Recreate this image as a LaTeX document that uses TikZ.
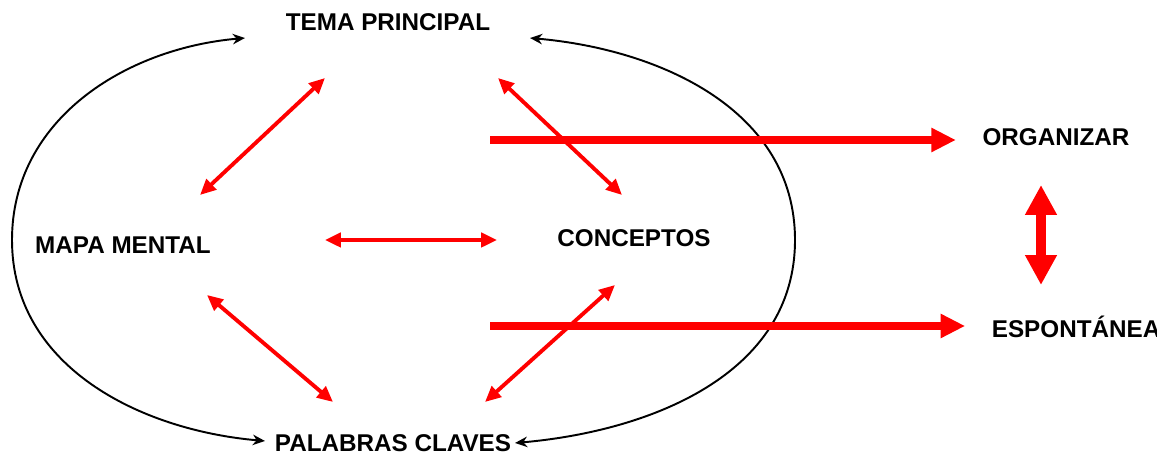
\documentclass[tikz,border=0pt]{standalone}
\usepackage{fontspec}
\setmainfont{Liberation Sans}
\usetikzlibrary{arrows.meta,positioning,calc}

\begin{document}
\begin{tikzpicture}[
  x=0.02cm, y=-0.02cm,
  concept/.style={font=\fontsize{13.8}{16}\selectfont\bfseries, inner sep=2pt},
  orbit/.style={black, line width=1.1pt, {Stealth[length=7pt,width=6pt]}-{Stealth[length=7pt,width=6pt]}},
  link/.style={red, line width=2.2pt, {Triangle[length=9pt,width=8pt]}-{Triangle[length=9pt,width=8pt]}},
  flow/.style={red, line width=4pt, -{Triangle[length=14pt,width=13pt]}, shorten >=13},
  swap/.style={red, line width=5.7pt, {Triangle[length=17pt,width=17pt]}-{Triangle[length=17pt,width=17pt]}}
]
\useasboundingbox (0,0) rectangle (1157,455);

\node[concept] (tema) at (388,22) {TEMA PRINCIPAL};
\node[concept] (mapa) at (123,245) {MAPA MENTAL};
\node[concept] (conceptos) at (634,238) {CONCEPTOS};
\node[concept] (palabras) at (393,443) {PALABRAS CLAVES};
\node[concept] (organizar) at (1056,137) {ORGANIZAR};
\node[concept, anchor=west] (espontanea) at (988,327) {ESPONTÁNEA};

% outer loop
\coordinate (tl) at (245,38);
\coordinate (tr) at (530,38);
\coordinate (ml) at (12,240);
\coordinate (mr) at (795,240);
\coordinate (bl) at (265,441);
\coordinate (br) at (515,443);
\draw[orbit] (tl) to[out=185,in=90] (ml) to[out=-90,in=175] (bl);
\draw[orbit] (tr) to[out=-5,in=90] (mr) to[out=-90,in=5] (br);

% links between the ideas
\coordinate (t1) at (325,78);  \coordinate (m1) at (200,195);
\coordinate (t2) at (498,78);  \coordinate (c1) at (622,195);
\coordinate (m2) at (325,240); \coordinate (c2) at (497,240);
\coordinate (m3) at (207,295); \coordinate (p1) at (333,402);
\coordinate (c3) at (615,285); \coordinate (p2) at (485,402);
\draw[link] (t1) -- (m1);
\draw[link] (t2) -- (c1);
\draw[link] (m2) -- (c2);
\draw[link] (m3) -- (p1);
\draw[link] (c3) -- (p2);

% ways out
\coordinate (o1) at (490,140);
\coordinate (e1) at (490,326);
\draw[flow] (o1) -- (o1 -| organizar.west);
\draw[flow] (e1) -- (e1 -| espontanea.west);
\coordinate (s1) at (1041,185);
\coordinate (s2) at (1041,285);
\draw[swap] (s1) -- (s2);
\end{tikzpicture}
\end{document}
